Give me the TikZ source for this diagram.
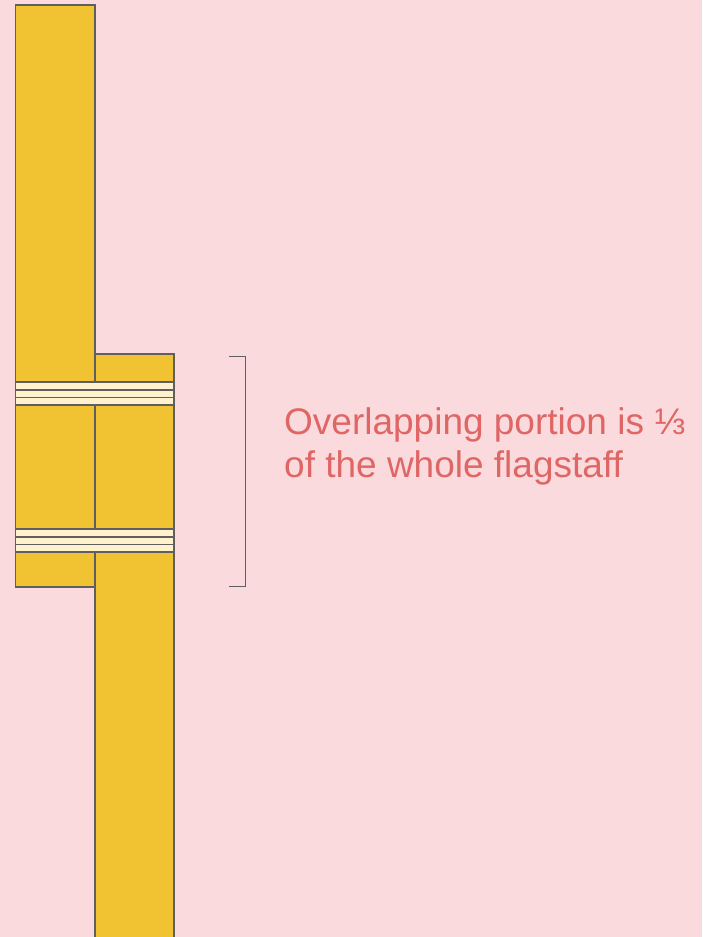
\documentclass[tikz,border=0pt]{standalone}
\usepackage{fontspec}
\setmainfont{Liberation Sans}
\usepackage{xcolor}
\definecolor{bgpink}{HTML}{FADADC}
\definecolor{rodyellow}{HTML}{F1C232}
\definecolor{tapecream}{HTML}{FFF2CC}
\definecolor{edgegray}{HTML}{5F5F5F}
\definecolor{notered}{HTML}{E06666}
\tikzset{
  rod/.style={fill=rodyellow, draw=edgegray, line width=1.9pt},
  tape/.style={fill=tapecream, draw=edgegray, line width=1.9pt},
  bracket/.style={draw=edgegray, line width=1.9pt},
}
\begin{document}
\begin{tikzpicture}[x=1pt, y=-1pt]
  % Background
  \fill[bgpink] (0,0) rectangle (702,937);
  \useasboundingbox (0,0) rectangle (702,937);
  % Upper piece of the flagstaff
  \draw[rod] (15.5,5) rectangle (95,587);
  % Lower piece of the flagstaff
  \draw[rod] (95,354) rectangle (174,940);
  % Binding at the top of the overlap
  \draw[tape] (15.5,382) rectangle (174,390);
  \draw[tape] (15.5,390) rectangle (174,397.5);
  \draw[tape] (15.5,397.5) rectangle (174,405);
  % Binding at the bottom of the overlap
  \draw[tape] (15.5,529) rectangle (174,537);
  \draw[tape] (15.5,537) rectangle (174,544.5);
  \draw[tape] (15.5,544.5) rectangle (174,552);
  % Bracket marking the overlap
  \coordinate (brtop) at (229,356.5);
  \coordinate (brbot) at (229,586.5);
  \draw[bracket] (brtop) -- (245.5,356.5) -- (245.5,586.5) -- (brbot);
  \node[anchor=north west, inner sep=0pt, align=left, text=notered,
        font=\fontsize{37}{42.5}\selectfont] (note) at (284,407.5)
    {Overlapping portion is ⅓\\of the whole flagstaff};
\end{tikzpicture}
\end{document}
